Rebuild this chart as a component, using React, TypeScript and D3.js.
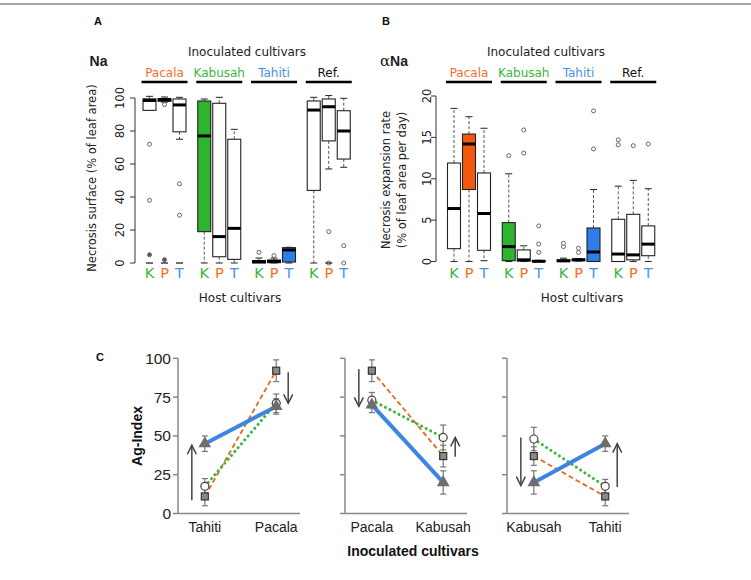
import React from "react";
import * as d3 from "d3";

const W = 751;
const H = 580;

// ---------- Panels A & B data ----------
const inoculated = ["Pacala", "Kabusah", "Tahiti", "Ref."];
const hosts = ["K", "P", "T"];
const inocColor = ["#F0702C", "#3BB53B", "#4C8FE6", "#111111"];
const hostColor = ["#3BB53B", "#F0702C", "#4C8FE6"];
const selfFill = ["#2DB52D", "#F2590E", "#2D7FE8"];

// Na: necrosis surface (%), boxes ordered inoculated x host (K, P, T)
const naLow = [92.5, 97.5, 75, 0, 0, 0, 0, 0, 0, 0, 57, 58];
const naQ1 = [92.5, 98, 79.5, 19, 3.8, 2.2, 0, 0.2, 0.6, 44, 74, 63];
const naMed = [98.5, 99, 95.8, 77, 16, 21, 0.8, 1, 7.9, 92.7, 94.7, 80];
const naQ3 = [99.5, 99.6, 99.4, 98.2, 96.8, 75, 1.5, 1.8, 9.3, 98.2, 99.4, 92.3];
const naHigh = [101, 100.6, 100.4, 99.4, 100.4, 81, 3, 3, 9.5, 100.4, 101.5, 99.8];
const naOut = [[72, 38, 5], [96, 2], [48, 29], [], [], [], [6.5], [4.5], [], [], [19, 0], [10.5, 0]];
const naZero = [1, 1, 1, 0, 0, 0, 0, 0, 0, 0, 1, 0];
const naTicks = [0, 20, 40, 60, 80, 100];

// alpha Na: necrosis expansion rate (% of leaf area per day)
const anLow = [0, 0, 0.1, 0, 0, 0, 0, 0.05, 0, 0, 0, 0];
const anQ1 = [1.55, 8.7, 1.35, 0.1, 0.05, 0, 0, 0.1, 0, 0, 0.2, 0.7];
const anMed = [6.4, 14.2, 5.8, 1.8, 0.2, 0.02, 0.08, 0.2, 1.15, 0.9, 0.8, 2.1];
const anQ3 = [11.9, 15.4, 10.7, 4.7, 1.4, 0.12, 0.2, 0.3, 4.05, 5.1, 5.7, 4.3];
const anHigh = [18.5, 17.5, 16.1, 10.6, 1.9, 0.15, 0.4, 0.35, 8.7, 9.1, 9.8, 8.8];
const anOut = [[], [], [], [12.8], [13.1, 15.9], [4.3, 2.1, 1.1], [1.8, 2.2], [1.1, 1.6], [13.6, 18.2], [14.1, 14.7], [14.0], [14.2]];
const anZero = [0, 0, 0, 0, 0, 0, 0, 0, 0, 0, 0, 0];
const anTicks = [0, 5, 10, 15, 20];

// ---------- Panel C data ----------
const agPairs = [["Tahiti", "Pacala"], ["Pacala", "Kabusah"], ["Kabusah", "Tahiti"]];
const agTicks = [0, 25, 50, 75, 100];
// host Pacala (orange, squares)
const agPacala = [[11, 92], [92, 37], [37, 11]];
const agPacalaErr = [[6, 7], [7, 7], [6, 6]];
// host Kabusah (green, open circles)
const agKabusah = [[17.5, 71], [73, 49], [48, 17.5]];
const agKabusahErr = [[5, 6], [5, 8], [7.5, 4.5]];
// host Tahiti (blue, triangles)
const agTahiti = [[45, 69], [70, 20], [20, 45]];
const agTahitiErr = [[5, 5], [5, 7.5], [7.5, 5]];
// change arrows next to each inoculated cultivar [from, to]
const agArrowLeft = [[8.5, 44], [93, 69], [49, 18]];
const agArrowRight = [[91, 71], [36.5, 49], [17, 45]];

const SANS = "DejaVu Sans, sans-serif";
const ARIAL = "Liberation Sans, Arial, sans-serif";

type BoxCfg = {
  low: number[]; q1: number[]; med: number[]; q3: number[]; high: number[];
  out: number[][]; zero: number[]; domain: [number, number]; ticks: number[];
  yRange: [number, number]; axisX: number; labelX: number; x0: number;
};

function BoxPanel(c: BoxCfg) {
  const y = d3.scaleLinear().domain(c.domain).range(c.yRange);
  const x = d3.scaleLinear().domain([0, 1]).range([c.x0, c.x0 + 15]);
  const pos = (g: number, h: number) => g * 3.65 + h;
  const bw = 13;
  const els: React.ReactNode[] = [];
  c.med.forEach((m, i) => {
    const g = Math.floor(i / 3);
    const h = i % 3;
    const cx = x(pos(g, h));
    const self = inoculated[g][0] === hosts[h];
    if (c.high[i] > c.q3[i]) {
      els.push(<line key={`wu${i}`} x1={cx} x2={cx} y1={y(c.q3[i])} y2={y(c.high[i])} stroke="#555" strokeWidth={1} strokeDasharray="3,2" />);
      els.push(<line key={`cu${i}`} x1={cx - 3.5} x2={cx + 3.5} y1={y(c.high[i])} y2={y(c.high[i])} stroke="#333" strokeWidth={1.1} />);
    }
    if (c.low[i] < c.q1[i]) {
      els.push(<line key={`wl${i}`} x1={cx} x2={cx} y1={y(c.q1[i])} y2={y(c.low[i])} stroke="#555" strokeWidth={1} strokeDasharray="3,2" />);
      els.push(<line key={`cl${i}`} x1={cx - 3.5} x2={cx + 3.5} y1={y(c.low[i])} y2={y(c.low[i])} stroke="#333" strokeWidth={1.1} />);
    }
    const top = y(c.q3[i]);
    const bot = y(c.q1[i]);
    els.push(<rect key={`b${i}`} x={cx - bw / 2} y={top} width={bw} height={Math.max(bot - top, 0.5)} fill={self ? selfFill[h] : "#fff"} stroke="#222" strokeWidth={1.1} />);
    els.push(<line key={`m${i}`} x1={cx - bw / 2} x2={cx + bw / 2} y1={y(m)} y2={y(m)} stroke="#000" strokeWidth={3} />);
    c.out[i].forEach((o, j) => {
      els.push(<circle key={`o${i}-${j}`} cx={cx} cy={y(o)} r={2} fill={o < 6 && g === 0 ? "#555" : "#fff"} stroke="#666" strokeWidth={1} />);
    });
    if (c.zero[i]) {
      els.push(<line key={`z${i}`} x1={cx - 3.5} x2={cx + 3.5} y1={y(0)} y2={y(0)} stroke="#222" strokeWidth={1.3} />);
    }
    els.push(<text key={`h${i}`} x={cx} y={278} textAnchor="middle" fontFamily={SANS} fontSize={14.5} fill={hostColor[h]}>{hosts[h]}</text>);
  });
  const headers = inoculated.map((name, g) => {
    const cx = x(pos(g, 1));
    return (
      <g key={`hd${g}`}>
        <text x={cx} y={77} textAnchor="middle" fontFamily={SANS} fontSize={12} fill={inocColor[g]}>{name}</text>
        <line x1={cx - 23} x2={cx + 23} y1={82} y2={82} stroke="#000" strokeWidth={2.5} />
      </g>
    );
  });
  const axis = (
    <g>
      <line x1={c.axisX} x2={c.axisX} y1={y(c.domain[0])} y2={y(c.domain[1])} stroke="#333" strokeWidth={1} />
      {c.ticks.map((t) => (
        <g key={`t${t}`}>
          <line x1={c.axisX - 5} x2={c.axisX} y1={y(t)} y2={y(t)} stroke="#333" strokeWidth={1} />
          <text transform={`translate(${c.labelX},${y(t)}) rotate(-90)`} textAnchor="middle" dy="0.35em" fontFamily={SANS} fontSize={11.5} fill="#222">{t}</text>
        </g>
      ))}
    </g>
  );
  return <g>{axis}{headers}{els}</g>;
}

function AgPanel() {
  const y = d3.scaleLinear().domain([0, 100]).range([513.5, 358.3]);
  const starts = [178, 345, 507];
  const pw = 122;
  const series = [
    { vals: agPacala, err: agPacalaErr, color: "#E8671E", width: 1.8, dash: "5,3", cap: "butt", shape: "square" },
    { vals: agKabusah, err: agKabusahErr, color: "#3CB83C", width: 3, dash: "0.1,5", cap: "round", shape: "circle" },
    { vals: agTahiti, err: agTahitiErr, color: "#3D85E0", width: 4, dash: "", cap: "butt", shape: "triangle" },
  ];
  const tri = d3.symbol().type(d3.symbolTriangle).size(70)() as string;
  return (
    <g>
      {agPairs.map((pair, k) => {
        const x0 = starts[k];
        const xs = d3.scaleLinear().domain([0, 1]).range([x0 + 0.22 * pw, x0 + 0.805 * pw]);
        const line = d3.line<number>().x((_, i) => xs(i)).y((v) => y(v));
        return (
          <g key={`p${k}`}>
            <line x1={x0} x2={x0} y1={y(0)} y2={y(100)} stroke="#888" strokeWidth={1.5} />
            <line x1={x0} x2={x0 + pw} y1={y(0)} y2={y(0)} stroke="#888" strokeWidth={1.5} />
            {agTicks.map((t) => (
              <g key={`t${t}`}>
                <line x1={x0 - 5} x2={x0} y1={y(t)} y2={y(t)} stroke="#888" strokeWidth={1.5} />
                {k === 0 && (
                  <text x={x0 - 7} y={y(t)} dy="0.35em" textAnchor="end" fontFamily={ARIAL} fontSize={15.5} fill="#222">{t}</text>
                )}
              </g>
            ))}
            {pair.map((name, i) => (
              <text key={`xl${i}`} x={xs(i)} y={532} textAnchor="middle" fontFamily={ARIAL} fontSize={14} fill="#222">{name}</text>
            ))}
            {series.map((s, si) => (
              <path key={`l${si}`} d={line(s.vals[k]) as string} fill="none" stroke={s.color} strokeWidth={s.width} strokeDasharray={s.dash || undefined} strokeLinecap={s.cap as any} />
            ))}
            {series.map((s, si) =>
              s.vals[k].map((v, i) => {
                const e = s.err[k][i];
                const cx = xs(i);
                return (
                  <g key={`e${si}-${i}`} stroke="#777" strokeWidth={1.2}>
                    <line x1={cx} x2={cx} y1={y(v + e)} y2={y(v - e)} />
                    <line x1={cx - 3} x2={cx + 3} y1={y(v + e)} y2={y(v + e)} />
                    <line x1={cx - 3} x2={cx + 3} y1={y(v - e)} y2={y(v - e)} />
                  </g>
                );
              })
            )}
            {series.map((s, si) =>
              s.vals[k].map((v, i) => {
                const cx = xs(i);
                const cy = y(v);
                if (s.shape === "square")
                  return <rect key={`s${si}-${i}`} x={cx - 3.5} y={cy - 3.5} width={7} height={7} fill="#8A8A8A" stroke="#333" strokeWidth={1.2} />;
                if (s.shape === "circle")
                  return <circle key={`s${si}-${i}`} cx={cx} cy={cy} r={4} fill="#fff" stroke="#444" strokeWidth={1.2} />;
                return <path key={`s${si}-${i}`} d={tri} transform={`translate(${cx},${cy})`} fill="#6E6E6E" />;
              })
            )}
            {[
              { a: agArrowLeft[k], ax: xs(0) - 13 },
              { a: agArrowRight[k], ax: xs(1) + 12 },
            ].map(({ a, ax }, ai) => {
              const y1 = y(a[0]);
              const y2 = y(a[1]);
              const dir = y2 < y1 ? 1 : -1;
              return (
                <g key={`a${ai}`} stroke="#444" strokeWidth={1.5} fill="none">
                  <line x1={ax} x2={ax} y1={y1} y2={y2} />
                  <polyline points={`${ax - 4.5},${y2 + dir * 9} ${ax},${y2} ${ax + 4.5},${y2 + dir * 9}`} />
                </g>
              );
            })}
          </g>
        );
      })}
      <text transform="translate(142,436) rotate(-90)" textAnchor="middle" fontFamily={ARIAL} fontWeight="bold" fontSize={14} fill="#111">Ag-Index</text>
      <text x={413} y={556} textAnchor="middle" fontFamily={ARIAL} fontWeight="bold" fontSize={14} fill="#111">Inoculated cultivars</text>
      <text x={100} y={361} textAnchor="middle" fontFamily={ARIAL} fontWeight="bold" fontSize={11} fill="#111">C</text>
    </g>
  );
}

export default function App() {
  return (
    <svg width={W} height={H} style={{ position: "absolute", left: 0, top: 0, background: "#fff" }} xmlns="http://www.w3.org/2000/svg">
      <rect x={0} y={0} width={W} height={H} fill="#fff" />
      <line x1={0} x2={W} y1={4} y2={4} stroke="#888" strokeWidth={1.5} />

      {/* Panel A */}
      <text x={98} y={25} textAnchor="middle" fontFamily={ARIAL} fontWeight="bold" fontSize={11} fill="#111">A</text>
      <text x={98.5} y={66} textAnchor="middle" fontFamily={ARIAL} fontWeight="bold" fontSize={14} fill="#222">Na</text>
      <text x={247} y={56} textAnchor="middle" fontFamily={SANS} fontSize={12} fill="#222">Inoculated cultivars</text>
      <text transform="translate(96,178) rotate(-90)" textAnchor="middle" fontFamily={SANS} fontSize={11.5} fill="#222">Necrosis surface (% of leaf area)</text>
      <BoxPanel low={naLow} q1={naQ1} med={naMed} q3={naQ3} high={naHigh} out={naOut} zero={naZero}
        domain={[0, 100]} ticks={naTicks} yRange={[263, 98]} axisX={135} labelX={120} x0={149.5} />
      <text x={240} y={302} textAnchor="middle" fontFamily={SANS} fontSize={12} fill="#222">Host cultivars</text>

      {/* Panel B */}
      <text x={386} y={25} textAnchor="middle" fontFamily={ARIAL} fontWeight="bold" fontSize={11} fill="#111">B</text>
      <text x={394} y={66} textAnchor="middle" fontFamily={ARIAL} fontSize={14} fill="#222">
        <tspan fontFamily="DejaVu Serif, serif" fontSize={15}>α</tspan><tspan fontWeight="bold">Na</tspan>
      </text>
      <text x={546} y={56} textAnchor="middle" fontFamily={SANS} fontSize={12} fill="#222">Inoculated cultivars</text>
      <text transform="translate(390,180) rotate(-90)" textAnchor="middle" fontFamily={SANS} fontSize={11.5} fill="#222">Necrosis expansion rate</text>
      <text transform="translate(406,180) rotate(-90)" textAnchor="middle" fontFamily={SANS} fontSize={11.5} fill="#222">(% of leaf area per day)</text>
      <BoxPanel low={anLow} q1={anQ1} med={anMed} q3={anQ3} high={anHigh} out={anOut} zero={anZero}
        domain={[0, 20]} ticks={anTicks} yRange={[261.5, 96]} axisX={436} labelX={427} x0={454} />
      <text x={582} y={302} textAnchor="middle" fontFamily={SANS} fontSize={12} fill="#222">Host cultivars</text>

      {/* Panel C */}
      <AgPanel />
    </svg>
  );
}
